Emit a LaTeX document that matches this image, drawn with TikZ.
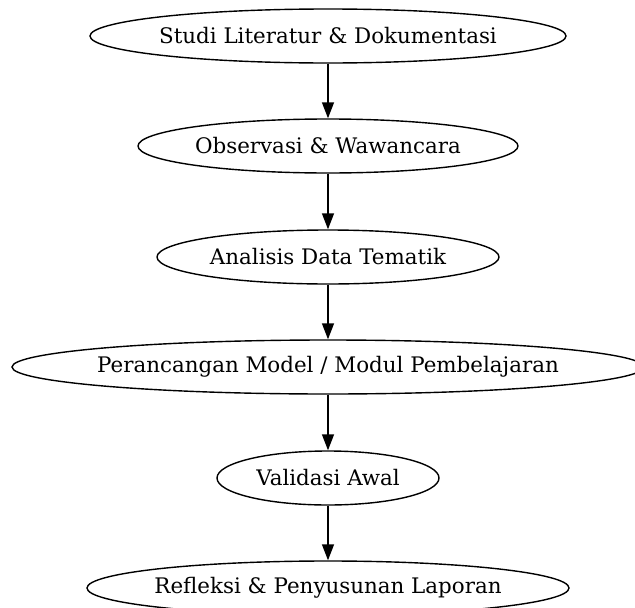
\documentclass[tikz,border=0pt]{standalone}
\usepackage{fontspec}
\setmainfont{DejaVu Serif}
\usetikzlibrary{shapes.geometric,arrows.meta}
\newcommand{\zlabel}[1]{\makebox[0pt]{#1}}
\begin{document}
\begin{tikzpicture}[x=1pt,y=-1pt,
  stepnode/.style={draw, ellipse, line width=1.4pt, inner sep=0pt, minimum height=54pt,
    font=\fontsize{21.4}{25}\selectfont},
  flow/.style={line width=1.4pt, -{Triangle[length=16pt,width=12pt]}}]
\useasboundingbox (0,0) rectangle (635,608);
\node[stepnode, minimum width=476pt] (n1) at (328,36) {\zlabel{Studi Literatur \& Dokumentasi}};
\node[stepnode, minimum width=380pt] (n2) at (328,146) {\zlabel{Observasi \& Wawancara}};
\node[stepnode, minimum width=342pt] (n3) at (328,257) {\zlabel{Analisis Data Tematik}};
\node[stepnode, minimum width=632pt] (n4) at (328,367) {\zlabel{Perancangan Model / Modul Pembelajaran}};
\node[stepnode, minimum width=222pt] (n5) at (328,478) {\zlabel{Validasi Awal}};
\node[stepnode, minimum width=482pt] (n6) at (328,588) {\zlabel{Refleksi \& Penyusunan Laporan}};
\draw[flow] (n1) -- (n2);
\draw[flow] (n2) -- (n3);
\draw[flow] (n3) -- (n4);
\draw[flow] (n4) -- (n5);
\draw[flow] (n5) -- (n6);
\end{tikzpicture}
\end{document}
